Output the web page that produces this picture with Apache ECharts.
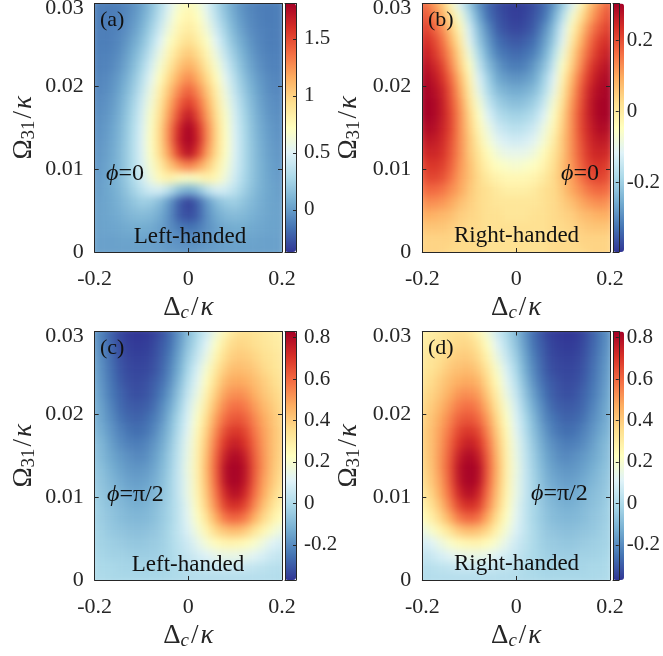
<!DOCTYPE html>
<html><head><meta charset="utf-8">
<style>html,body{margin:0;padding:0;background:#fff;overflow:hidden;width:663px;height:656px}#c{position:absolute;left:0;top:-20px;width:663px;height:676px}</style>
<script src="https://cdn.jsdelivr.net/npm/echarts@6/dist/echarts.min.js"></script>
</head><body><div id="c"></div>
<script>
// x categories -0.2..0.2, y categories 0..0.03 (rows listed bottom to top)
const detuning = [-.2,-.18,-.16,-.14,-.12,-.1,-.08,-.06,-.04,-.02,0,.02,.04,.06,.08,.1,.12,.14,.16,.18,.2];
const rabi = [0,.0015,.003,.0045,.006,.0075,.009,.0105,.012,.0135,.015,.0165,.018,.0195,.021,.0225,.024,.0255,.027,.0285,.03];
const panelA = [
[.02,.02,.02,.02,.02,.02,.02,.01,0,-.01,-.02,-.01,0,.01,.02,.02,.02,.02,.02,.02,.02],
[.02,.02,.02,.03,.03,.03,.02,.01,-.02,-.05,-.06,-.05,-.02,.01,.02,.03,.03,.03,.02,.02,.02],
[.02,.03,.04,.05,.07,.07,.06,.02,-.05,-.13,-.16,-.13,-.05,.02,.06,.07,.07,.05,.04,.03,.02],
[.02,.03,.05,.08,.12,.14,.12,.06,-.05,-.23,-.3,-.23,-.05,.06,.12,.14,.12,.08,.05,.03,.02],
[.01,.03,.06,.11,.17,.23,.21,.13,-.02,-.22,-.34,-.22,-.02,.13,.21,.23,.17,.11,.06,.03,.01],
[0,.03,.07,.14,.24,.35,.44,.46,.34,.16,.08,.16,.34,.46,.44,.35,.24,.14,.07,.03,0],
[-.01,.02,.07,.16,.28,.43,.6,.76,.82,.74,.7,.74,.82,.76,.6,.43,.28,.16,.07,.02,-.01],
[-.02,.01,.07,.16,.3,.46,.66,.85,1.05,1.22,1.32,1.22,1.05,.85,.66,.46,.3,.16,.07,.01,-.02],
[-.03,0,.06,.16,.3,.48,.7,.95,1.22,1.55,1.75,1.55,1.22,.95,.7,.48,.3,.16,.06,0,-.03],
[-.04,-.01,.05,.15,.3,.48,.71,.97,1.29,1.65,1.81,1.65,1.29,.97,.71,.48,.3,.15,.05,-.01,-.04],
[-.05,-.02,.04,.14,.29,.47,.7,.97,1.29,1.62,1.81,1.62,1.29,.97,.7,.47,.29,.14,.04,-.02,-.05],
[-.06,-.04,.02,.12,.27,.45,.68,.93,1.22,1.5,1.7,1.5,1.22,.93,.68,.45,.27,.12,.02,-.04,-.06],
[-.07,-.05,0,.1,.24,.42,.63,.88,1.15,1.4,1.55,1.4,1.15,.88,.63,.42,.24,.1,0,-.05,-.07],
[-.08,-.07,-.02,.07,.2,.37,.58,.82,1.06,1.28,1.42,1.28,1.06,.82,.58,.37,.2,.07,-.02,-.07,-.08],
[-.09,-.08,-.04,.04,.16,.32,.52,.74,.97,1.16,1.28,1.16,.97,.74,.52,.32,.16,.04,-.04,-.08,-.09],
[-.1,-.1,-.07,0,.11,.26,.45,.66,.87,1.05,1.15,1.05,.87,.66,.45,.26,.11,0,-.07,-.1,-.1],
[-.11,-.11,-.09,-.03,.07,.2,.37,.58,.78,.95,1.04,.95,.78,.58,.37,.2,.07,-.03,-.09,-.11,-.11],
[-.11,-.12,-.1,-.06,.03,.14,.3,.5,.7,.85,.94,.85,.7,.5,.3,.14,.03,-.06,-.1,-.12,-.11],
[-.11,-.12,-.11,-.08,-.01,.09,.24,.42,.62,.78,.86,.78,.62,.42,.24,.09,-.01,-.08,-.11,-.12,-.11],
[-.11,-.12,-.12,-.09,-.04,.05,.18,.35,.55,.72,.8,.72,.55,.35,.18,.05,-.04,-.09,-.12,-.12,-.11],
[-.11,-.12,-.12,-.1,-.06,.02,.14,.3,.5,.66,.75,.66,.5,.3,.14,.02,-.06,-.1,-.12,-.12,-.11]];
const panelB = [
[.04,.04,.04,.03,.03,.03,.03,.02,.02,.02,.02,.02,.02,.02,.03,.03,.03,.03,.04,.04,.04],
[.04,.04,.04,.04,.03,.03,.03,.02,.02,.02,.02,.02,.02,.02,.03,.03,.03,.04,.04,.04,.04],
[.06,.06,.06,.05,.04,.03,.03,.02,.02,.02,.02,.02,.02,.02,.03,.03,.04,.05,.06,.06,.06],
[.09,.09,.08,.07,.05,.04,.03,.02,.02,.01,.01,.01,.02,.02,.03,.04,.05,.07,.08,.09,.09],
[.12,.13,.12,.1,.07,.05,.03,.02,.01,.01,.01,.01,.01,.02,.03,.05,.07,.1,.12,.13,.12],
[.16,.17,.16,.13,.1,.06,.03,.02,0,-.01,-.01,-.01,0,.02,.03,.06,.1,.13,.16,.17,.16],
[.19,.21,.2,.16,.11,.07,.03,0,-.02,-.03,-.03,-.03,-.02,0,.03,.07,.11,.16,.2,.21,.19],
[.21,.23,.22,.18,.12,.07,.02,-.02,-.05,-.06,-.07,-.06,-.05,-.02,.02,.07,.12,.18,.22,.23,.21],
[.24,.25,.24,.19,.13,.06,.01,-.04,-.08,-.1,-.1,-.1,-.08,-.04,.01,.06,.13,.19,.24,.25,.24],
[.26,.27,.25,.2,.13,.06,-.01,-.07,-.11,-.13,-.14,-.13,-.11,-.07,-.01,.06,.13,.2,.25,.27,.26],
[.28,.29,.26,.21,.13,.05,-.03,-.09,-.14,-.16,-.17,-.16,-.14,-.09,-.03,.05,.13,.21,.26,.29,.28],
[.3,.3,.27,.21,.13,.04,-.05,-.12,-.17,-.19,-.2,-.19,-.17,-.12,-.05,.04,.13,.21,.27,.3,.3],
[.3,.3,.27,.2,.12,.02,-.07,-.15,-.2,-.22,-.23,-.22,-.2,-.15,-.07,.02,.12,.2,.27,.3,.3],
[.3,.29,.26,.19,.1,0,-.1,-.18,-.23,-.25,-.26,-.25,-.23,-.18,-.1,0,.1,.19,.26,.29,.3],
[.29,.28,.24,.17,.08,-.02,-.12,-.2,-.26,-.28,-.29,-.28,-.26,-.2,-.12,-.02,.08,.17,.24,.28,.29],
[.28,.26,.22,.14,.05,-.05,-.15,-.23,-.28,-.31,-.32,-.31,-.28,-.23,-.15,-.05,.05,.14,.22,.26,.28],
[.26,.24,.19,.12,.03,-.08,-.18,-.26,-.31,-.33,-.34,-.33,-.31,-.26,-.18,-.08,.03,.12,.19,.24,.26],
[.24,.22,.17,.09,0,-.11,-.21,-.28,-.33,-.35,-.36,-.35,-.33,-.28,-.21,-.11,0,.09,.17,.22,.24],
[.22,.19,.14,.06,-.03,-.13,-.23,-.3,-.35,-.37,-.38,-.37,-.35,-.3,-.23,-.13,-.03,.06,.14,.19,.22],
[.2,.16,.1,.02,-.07,-.17,-.26,-.33,-.36,-.38,-.39,-.38,-.36,-.33,-.26,-.17,-.07,.02,.1,.16,.2],
[.18,.13,.07,-.03,-.12,-.21,-.29,-.34,-.37,-.385,-.39,-.385,-.37,-.34,-.29,-.21,-.12,-.03,.07,.13,.18]];
const panelC = [
[0,0,-.01,-.01,-.01,-.01,-.01,-.01,0,0,.01,.01,.01,.01,.01,.01,.01,.01,.01,.01,0],
[0,-.01,-.01,-.02,-.02,-.02,-.02,-.02,-.01,0,.02,.03,.04,.05,.05,.05,.05,.04,.03,.02,.01],
[-.01,-.02,-.03,-.03,-.04,-.04,-.04,-.03,-.01,.02,.05,.08,.11,.14,.15,.15,.14,.12,.09,.06,.04],
[-.02,-.03,-.04,-.05,-.06,-.06,-.05,-.04,-.01,.03,.07,.13,.19,.24,.27,.27,.25,.21,.16,.11,.08],
[-.02,-.04,-.06,-.07,-.08,-.08,-.07,-.05,-.01,.04,.1,.18,.27,.37,.42,.44,.41,.34,.27,.2,.15],
[-.03,-.05,-.07,-.09,-.1,-.1,-.09,-.06,-.02,.04,.12,.22,.34,.47,.58,.61,.57,.47,.37,.29,.23],
[-.03,-.06,-.08,-.1,-.12,-.12,-.1,-.07,-.02,.04,.13,.25,.39,.54,.68,.72,.67,.55,.43,.34,.27],
[-.04,-.07,-.09,-.12,-.14,-.14,-.12,-.08,-.03,.05,.15,.27,.42,.58,.74,.8,.74,.6,.48,.38,.31],
[-.05,-.08,-.11,-.14,-.16,-.16,-.14,-.1,-.03,.05,.15,.28,.44,.61,.79,.83,.78,.63,.5,.41,.34],
[-.06,-.09,-.13,-.16,-.18,-.18,-.16,-.11,-.04,.05,.16,.28,.45,.62,.8,.83,.79,.64,.52,.42,.36],
[-.07,-.11,-.15,-.18,-.2,-.21,-.18,-.13,-.05,.04,.15,.28,.44,.61,.76,.81,.76,.63,.52,.43,.37],
[-.08,-.12,-.17,-.21,-.23,-.23,-.2,-.15,-.07,.03,.14,.27,.42,.58,.71,.76,.71,.61,.51,.43,.38],
[-.1,-.14,-.19,-.23,-.26,-.26,-.23,-.17,-.09,.01,.12,.25,.39,.54,.66,.7,.67,.58,.5,.43,.38],
[-.11,-.16,-.21,-.26,-.28,-.28,-.25,-.2,-.11,-.01,.1,.22,.36,.5,.6,.64,.62,.55,.48,.42,.37],
[-.12,-.17,-.23,-.28,-.3,-.3,-.28,-.22,-.14,-.04,.08,.19,.32,.45,.55,.59,.57,.51,.45,.4,.36],
[-.13,-.19,-.25,-.29,-.32,-.32,-.3,-.25,-.17,-.07,.05,.15,.28,.4,.5,.53,.52,.47,.42,.38,.35],
[-.14,-.2,-.26,-.31,-.33,-.33,-.31,-.27,-.2,-.1,.02,.12,.24,.36,.45,.48,.47,.44,.4,.36,.33],
[-.15,-.21,-.27,-.32,-.34,-.34,-.33,-.29,-.22,-.13,-.01,.09,.2,.32,.4,.44,.43,.41,.37,.34,.32],
[-.16,-.22,-.28,-.33,-.35,-.35,-.34,-.3,-.24,-.15,-.04,.05,.15,.27,.36,.4,.4,.38,.35,.33,.31],
[-.17,-.23,-.29,-.34,-.36,-.36,-.35,-.31,-.26,-.17,-.07,.02,.11,.22,.32,.37,.37,.35,.33,.31,.3],
[-.18,-.24,-.3,-.35,-.37,-.37,-.36,-.33,-.27,-.19,-.09,-.01,.07,.17,.26,.33,.35,.34,.32,.3,.29]];
const panelD = [
[0,.01,.01,.01,.01,.01,.01,.01,.01,.01,.01,0,0,-.01,-.01,-.01,-.01,-.01,-.01,0,0],
[.01,.02,.03,.04,.05,.05,.05,.05,.04,.03,.02,0,-.01,-.02,-.02,-.02,-.02,-.02,-.01,-.01,0],
[.04,.06,.09,.12,.14,.15,.15,.14,.11,.08,.05,.02,-.01,-.03,-.04,-.04,-.04,-.03,-.03,-.02,-.01],
[.08,.11,.16,.21,.25,.27,.27,.24,.19,.13,.07,.03,-.01,-.04,-.05,-.06,-.06,-.05,-.04,-.03,-.02],
[.15,.2,.27,.34,.41,.44,.42,.37,.27,.18,.1,.04,-.01,-.05,-.07,-.08,-.08,-.07,-.06,-.04,-.02],
[.23,.29,.37,.47,.57,.61,.58,.47,.34,.22,.12,.04,-.02,-.06,-.09,-.1,-.1,-.09,-.07,-.05,-.03],
[.27,.34,.43,.55,.67,.72,.68,.54,.39,.25,.13,.04,-.02,-.07,-.1,-.12,-.12,-.1,-.08,-.06,-.03],
[.31,.38,.48,.6,.74,.8,.74,.58,.42,.27,.15,.05,-.03,-.08,-.12,-.14,-.14,-.12,-.09,-.07,-.04],
[.34,.41,.5,.63,.78,.83,.79,.61,.44,.28,.15,.05,-.03,-.1,-.14,-.16,-.16,-.14,-.11,-.08,-.05],
[.36,.42,.52,.64,.79,.83,.8,.62,.45,.28,.16,.05,-.04,-.11,-.16,-.18,-.18,-.16,-.13,-.09,-.06],
[.37,.43,.52,.63,.76,.81,.76,.61,.44,.28,.15,.04,-.05,-.13,-.18,-.21,-.2,-.18,-.15,-.11,-.07],
[.38,.43,.51,.61,.71,.76,.71,.58,.42,.27,.14,.03,-.07,-.15,-.2,-.23,-.23,-.21,-.17,-.12,-.08],
[.38,.43,.5,.58,.67,.7,.66,.54,.39,.25,.12,.01,-.09,-.17,-.23,-.26,-.26,-.23,-.19,-.14,-.1],
[.37,.42,.48,.55,.62,.64,.6,.5,.36,.22,.1,-.01,-.11,-.2,-.25,-.28,-.28,-.26,-.21,-.16,-.11],
[.36,.4,.45,.51,.57,.59,.55,.45,.32,.19,.08,-.04,-.14,-.22,-.28,-.3,-.3,-.28,-.23,-.17,-.12],
[.35,.38,.42,.47,.52,.53,.5,.4,.28,.15,.05,-.07,-.17,-.25,-.3,-.32,-.32,-.29,-.25,-.19,-.13],
[.33,.36,.4,.44,.47,.48,.45,.36,.24,.12,.02,-.1,-.2,-.27,-.31,-.33,-.33,-.31,-.26,-.2,-.14],
[.32,.34,.37,.41,.43,.44,.4,.32,.2,.09,-.01,-.13,-.22,-.29,-.33,-.34,-.34,-.32,-.27,-.21,-.15],
[.31,.33,.35,.38,.4,.4,.36,.27,.15,.05,-.04,-.15,-.24,-.3,-.34,-.35,-.35,-.33,-.28,-.22,-.16],
[.3,.31,.33,.35,.37,.37,.32,.22,.11,.02,-.07,-.17,-.26,-.31,-.35,-.36,-.36,-.34,-.29,-.23,-.17],
[.29,.3,.32,.34,.35,.33,.26,.17,.07,-.01,-.09,-.19,-.27,-.33,-.36,-.37,-.37,-.35,-.3,-.24,-.18]];
const colorStops = ['#313695','#4575b4','#74add1','#abd9e9','#e0f3f8','#ffffbf','#fee090','#fdae61','#f46d43','#d73027','#a50026'];
const panelRanges = [[-.37,1.81],[-.397,.303],[-.37,.83],[-.37,.83]];
const barTicksA = [0,.5,1,1.5];
const barTicksB = [-.2,0,.2];
const barTicksC = [-.2,0,.2,.4,.6,.8];
const panelLetters = ['(a)','(b)','(c)','(d)'];
const handedness = ['Left-handed','Right-handed','Left-handed','Right-handed'];
const phaseLabels = ['=0','=0','=π/2','=π/2'];

const panels = [panelA,panelB,panelC,panelD];
const barTicks = [barTicksA,barTicksB,barTicksC,barTicksC];
const ink = '#262626', serif = '"Liberation Serif","Times New Roman",serif', fs = 22, UP = 1, OFF = 20;
const rects = [
 {l:94.7,t:3.5,w:187.3,h:248.5,bl:285,bw:11,hx:190,hy:237,px:106,py:175,lx:100,ly:21,ng:56},
 {l:422.3,t:3.5,w:187.7,h:248.5,bl:613,bw:11,hx:516.5,hy:236,px:561,py:175,lx:428,ly:21,ng:59},
 {l:94.7,t:331.5,w:187.3,h:248.5,bl:285,bw:11,hx:188,hy:565,px:107,py:496,lx:100,ly:349,ng:56},
 {l:422.3,t:331.5,w:187.7,h:248.5,bl:613,bw:11,hx:516.5,hy:564,px:531,py:495,lx:428,ly:349,ng:59}];

const grid=[],xAxis=[],yAxis=[],series=[],visualMap=[],graphic=[];
const line={show:true,onZero:false,lineStyle:{color:ink,width:1}};
const tick=(len)=>({show:true,inside:true,length:len,lineStyle:{color:ink,width:1}});
const lab={color:ink,fontFamily:serif,fontSize:fs};
const nameRich={a:{fontFamily:serif,fontSize:27,color:ink},sl:{fontFamily:serif,fontSize:27,color:ink,padding:[0,2,0,2]},i:{fontFamily:serif,fontStyle:'italic',fontSize:27,color:ink},
  s:{fontFamily:serif,fontStyle:'italic',fontSize:19,color:ink,verticalAlign:'bottom',padding:[10,0,0,0]},n:{fontFamily:serif,fontSize:19,color:ink,verticalAlign:'bottom',padding:[10,0,0,0]}};

rects.forEach((r,p)=>{
  const top=r.t+OFF;
  // heat grid: cell centres sit on the axis range, the half-cell overhang is clipped below
  const cw=r.w/(detuning.length-1), ch=r.h/(rabi.length-1);
  const g0=grid.length;
  grid.push({left:r.l-cw/2,top:top-ch/2,width:r.w+cw,height:r.h+ch});
  xAxis.push({gridIndex:g0,type:'category',data:detuning,show:false});
  yAxis.push({gridIndex:g0,type:'category',data:rabi,show:false});
  const cells=[];
  panels[p].forEach((row,j)=>row.forEach((v,i)=>cells.push([i,j,v])));
  series.push({type:'heatmap',zlevel:0,xAxisIndex:xAxis.length-1,yAxisIndex:yAxis.length-1,data:cells,silent:true,progressive:0,
    emphasis:{disabled:true},itemStyle:{borderWidth:0}});
  visualMap.push({type:'continuous',zlevel:UP,seriesIndex:p,min:panelRanges[p][0],max:panelRanges[p][1],inRange:{color:colorStops},
    left:r.bl,top:top,itemWidth:r.bw,itemHeight:r.h,padding:0,align:'left',text:null,showLabel:false,calculable:false,hoverLink:false,borderWidth:0});
  // tick grid
  const g1=grid.length;
  grid.push({left:r.l,top:top,width:r.w,height:r.h});
  xAxis.push({gridIndex:g1,zlevel:UP,type:'value',position:'bottom',min:-.2,max:.2,interval:.2,z:10,splitLine:{show:false},axisLine:line,axisTick:tick(4),
    axisLabel:{...lab,margin:16,alignMinLabel:'center',alignMaxLabel:'center'},
    name:'{a|Δ}{s|c}{sl|/}{i|κ}',nameLocation:'middle',nameGap:41,nameTextStyle:{rich:nameRich}});
  xAxis.push({gridIndex:g1,zlevel:UP,type:'value',position:'top',min:-.2,max:.2,interval:.2,z:10,splitLine:{show:false},axisLine:line,axisTick:tick(4),axisLabel:{show:false}});
  yAxis.push({gridIndex:g1,zlevel:UP,type:'value',position:'left',min:0,max:.03,interval:.01,z:10,splitLine:{show:false},axisLine:line,axisTick:tick(4),
    axisLabel:{...lab,margin:11,lineHeight:10,verticalAlignMaxLabel:'top'},
    name:'{a|Ω}{n|31}{sl|/}{i|κ}',nameLocation:'middle',nameGap:r.ng,nameRotate:90,nameTextStyle:{rich:nameRich}});
  yAxis.push({gridIndex:g1,zlevel:UP,type:'value',position:'right',min:0,max:.03,interval:.01,z:10,splitLine:{show:false},axisLine:line,axisTick:tick(4),axisLabel:{show:false}});
  // colour bar frame and ticks
  const g2=grid.length;
  grid.push({left:r.bl,top:top,width:r.bw,height:r.h});
  xAxis.push({gridIndex:g2,zlevel:UP,type:'value',min:0,max:1,position:'bottom',show:true,axisLine:line,axisTick:{show:false},axisLabel:{show:false},splitLine:{show:false},z:10});
  xAxis.push({gridIndex:g2,zlevel:UP,type:'value',min:0,max:1,position:'top',show:true,axisLine:line,axisTick:{show:false},axisLabel:{show:false},splitLine:{show:false},z:10});
  yAxis.push({gridIndex:g2,zlevel:UP,type:'value',min:panelRanges[p][0],max:panelRanges[p][1],position:'left',axisLine:line,axisTick:{show:false},axisLabel:{show:false},splitLine:{show:false},z:10});
  yAxis.push({gridIndex:g2,zlevel:UP,type:'value',min:panelRanges[p][0],max:panelRanges[p][1],position:'right',axisLine:line,splitLine:{show:false},z:10,
    axisTick:{...tick(3),customValues:barTicks[p]},axisLabel:{...lab,fontSize:21,margin:8,customValues:barTicks[p],formatter:v=>String(v)}});
  // annotations
  graphic.push({type:'text',left:r.lx,top:r.ly-12+OFF,z:100,zlevel:UP,style:{text:panelLetters[p],fontFamily:serif,fontSize:22,fill:'#111'}});
  graphic.push({type:'text',left:r.px,top:r.py-13+OFF,z:100,zlevel:UP,style:{text:'{i|ϕ}{a|'+phaseLabels[p]+'}',rich:{i:{fontFamily:serif,fontStyle:'italic',fontSize:24,fill:'#111'},a:{fontFamily:serif,fontSize:24,fill:'#111'}}}});
  graphic.push({type:'text',x:r.hx,y:r.hy+OFF,z:100,zlevel:UP,style:{text:handedness[p],fontFamily:serif,fontSize:23,fill:'#111',align:'center',verticalAlign:'middle'}});
});

const chart=echarts.init(document.getElementById('c'),null,{renderer:'canvas'});
chart.setOption({animation:false,grid,xAxis,yAxis,series,visualMap,graphic});

// soften the cell edges of the heat layer only (the reference is a smooth image) and clip it to the plot boxes
const heatLayer=document.querySelector('canvas[data-zr-dom-id="zr_0"]');
if(heatLayer){
  heatLayer.style.filter='blur(4px)';
  const d=rects.map(r=>`M${r.l} ${r.t+OFF}H${r.l+r.w}V${r.t+OFF+r.h}H${r.l}Z`).join(' ');
  heatLayer.style.clipPath=`path('${d}')`;
}
</script></body></html>
